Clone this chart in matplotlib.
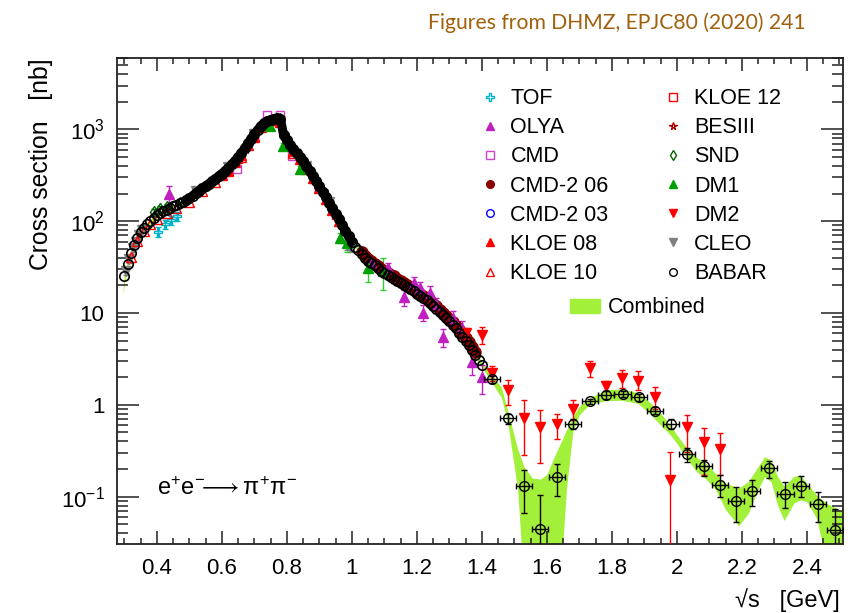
import numpy as np
import matplotlib
matplotlib.use('Agg')
import matplotlib.pyplot as plt
from matplotlib.lines import Line2D
from matplotlib.patches import Patch

plt.rcParams['font.family'] = ['Liberation Sans', 'DejaVu Sans']
plt.rcParams['mathtext.fontset'] = 'custom'
plt.rcParams['mathtext.rm'] = 'Liberation Sans'
plt.rcParams['mathtext.it'] = 'Liberation Sans:italic'
plt.rcParams['mathtext.fallback'] = 'stixsans'

# --- DATA ---
# BABAR, fine binning below 1.4 GeV
babar_x = [0.30, 0.31, 0.32, 0.33, 0.34, 0.35, 0.36, 0.37, 0.38, 0.39,
           0.40, 0.41, 0.42, 0.43, 0.44, 0.45, 0.46, 0.47, 0.48, 0.49,
           0.50, 0.51, 0.52, 0.53, 0.54, 0.55, 0.56, 0.57, 0.58, 0.59,
           0.60, 0.61, 0.62, 0.63, 0.64, 0.65, 0.66, 0.67, 0.68, 0.69,
           0.70, 0.71, 0.72, 0.73, 0.74, 0.75, 0.76, 0.77, 0.78, 0.79,
           0.80, 0.81, 0.82, 0.83, 0.84, 0.85, 0.86, 0.87, 0.88, 0.89,
           0.90, 0.91, 0.92, 0.93, 0.94, 0.95, 0.96, 0.97, 0.98, 0.99,
           1.00, 1.01, 1.02, 1.03, 1.04, 1.05, 1.06, 1.07, 1.08, 1.09,
           1.10, 1.11, 1.12, 1.13, 1.14, 1.15, 1.16, 1.17, 1.18, 1.19,
           1.20, 1.21, 1.22, 1.23, 1.24, 1.25, 1.26, 1.27, 1.28, 1.29,
           1.30, 1.31, 1.32, 1.33, 1.34, 1.35, 1.36, 1.37, 1.38, 1.39, 1.40]
babar_y = [25, 34, 45, 55, 66, 76, 85, 93, 101, 109,
           116, 122, 128, 134, 140, 146, 152, 157, 163, 170,
           178, 190, 203, 216, 229, 243, 257, 272, 289, 309,
           331, 354, 380, 415, 455, 500, 550, 625, 705, 795,
           890, 990, 1095, 1170, 1230, 1280, 1310, 1320, 1300, 860,
           770, 680, 605, 550, 500, 448, 398, 352, 310, 273,
           240, 210, 182, 159, 138, 120, 105, 91, 79, 69,
           60, 53, 48, 44, 40, 37, 35, 33, 31, 29,
           27.5, 26, 24.5, 23.5, 22.5, 21.5, 20.4, 19.3, 18.2, 17.2,
           16.2, 15.3, 14.5, 13.7, 12.9, 12.0, 11.2, 10.3, 9.5, 8.8,
           8.1, 7.4, 6.8, 6.1, 5.5, 5.0, 4.5, 4.0, 3.5, 3.1, 2.7]

# BABAR, 50 MeV bins above 1.4 GeV (value, lower edge, upper edge)
babar_hx = [1.430, 1.481, 1.530, 1.578, 1.630, 1.681, 1.732, 1.782, 1.833, 1.883, 1.932,
            1.982, 2.032, 2.083, 2.133, 2.183, 2.232, 2.284, 2.334, 2.383, 2.435, 2.486]
babar_hy = [1.91, 0.716, 0.131, 0.044, 0.163, 0.621, 1.10, 1.29, 1.32, 1.21, 0.867,
            0.621, 0.292, 0.213, 0.134, 0.090, 0.116, 0.207, 0.106, 0.131, 0.083, 0.0434]
babar_hlo = [1.72, 0.62, 0.067, 0.005, 0.102, 0.55, 1.03, 1.17, 1.21, 1.11, 0.798,
             0.543, 0.241, 0.168, 0.0986, 0.0535, 0.080, 0.159, 0.0748, 0.100, 0.0535, 0.005]
babar_hhi = [2.07, 0.80, 0.196, 0.104, 0.226, 0.70, 1.17, 1.41, 1.43, 1.32, 0.944,
             0.698, 0.337, 0.252, 0.170, 0.126, 0.150, 0.245, 0.143, 0.166, 0.111, 0.073]

cmd2_06_x = [1.03, 1.04, 1.05, 1.06, 1.07, 1.08, 1.09, 1.10, 1.11, 1.12, 1.13, 1.14,
             1.15, 1.16, 1.17, 1.18, 1.19, 1.20, 1.21, 1.22, 1.23, 1.24, 1.25, 1.26,
             1.27, 1.28, 1.29, 1.30, 1.31, 1.32, 1.33, 1.34, 1.35, 1.36, 1.37, 1.38]
cmd2_06_y = [46, 42, 39, 36.5, 34.5, 32.5, 30.5, 29, 27.5, 26, 25, 23.5,
             22.5, 21.5, 20.3, 19.2, 18, 17, 16, 15.2, 14.4, 13.6, 12.6, 11.8,
             10.9, 10, 9.3, 8.6, 7.9, 7.2, 6.5, 5.9, 5.3, 4.8, 4.3, 3.8]

cmd2_03_x = [0.61, 0.65, 0.69, 0.72, 0.75, 0.77, 0.80, 0.83, 0.865, 0.90, 0.94]
cmd2_03_y = [350, 495, 800, 1090, 1275, 1315, 765, 545, 375, 238, 136]

besiii_x = [0.61, 0.64, 0.67, 0.70, 0.73, 0.76, 0.79, 0.82, 0.85, 0.88, 0.91]
besiii_y = [345, 445, 615, 880, 1160, 1300, 850, 595, 440, 305, 207]

kloe08_x = [0.60, 0.62, 0.64, 0.66, 0.68, 0.70, 0.72, 0.74, 0.76, 0.78,
            0.80, 0.82, 0.84, 0.86, 0.88, 0.90, 0.92, 0.94, 0.96]
kloe08_y = [318, 364, 437, 528, 677, 854, 1050, 1180, 1260, 1250,
            740, 580, 480, 382, 298, 230, 175, 132, 100]

kloe10_x = [0.32, 0.34, 0.36, 0.38, 0.40, 0.43, 0.46, 0.50, 0.54, 0.58,
            0.62, 0.66, 0.70, 0.74, 0.78, 0.82, 0.86]
kloe10_y = [41, 61, 78, 93, 107, 123, 140, 164, 211, 266,
            350, 505, 820, 1130, 1200, 555, 366]

kloe12_x = [0.60, 0.65, 0.70, 0.75, 0.80, 0.85, 0.90, 0.95]
kloe12_y = [320, 480, 860, 1240, 745, 432, 232, 116]

snd_x = [0.39, 0.41, 0.43, 0.47, 0.53, 0.60, 0.66, 0.72, 0.78, 0.84, 0.90, 0.96]
snd_y = [125, 136, 142, 158, 214, 328, 545, 1085, 1290, 495, 238, 104]
snd_e = [12, 12, 12, 6, 6, 8, 10, 15, 15, 8, 5, 3]

cleo_x = [0.305, 0.315, 0.325, 0.335, 0.345, 0.355, 0.52, 0.62, 0.70, 0.86, 0.93, 0.985, 0.995]
cleo_y = [29, 39, 51, 60, 71, 81, 212, 385, 895, 402, 160, 55, 52]
cleo_e = [3, 4, 5, 5, 5, 5, 8, 12, 20, 10, 6, 6, 6]

tof_x = [0.404, 0.425, 0.443, 0.461]
tof_y = [77, 93, 103, 113]
tof_e = [9, 10, 11, 12]

olya_x = [0.437, 1.06, 1.11, 1.16, 1.19, 1.21, 1.22, 1.24, 1.26, 1.28, 1.31, 1.34, 1.37, 1.40]
olya_y = [200, 36, 31, 15.0, 21.4, 18.8, 10.1, 16.6, 12.5, 5.5, 8.9, 6.9, 2.9, 2.0]
olya_e = [45, 5, 4, 3, 3, 3, 2, 3, 2, 1.2, 1.5, 1.3, 0.8, 0.7]

cmd_x = [0.645, 0.70, 0.738, 0.778, 0.815, 0.84, 0.90]
cmd_y = [370, 860, 1440, 1440, 510, 480, 235]

dm1_x = [0.748, 0.788, 0.84, 0.963, 0.985, 1.05, 1.095]
dm1_y = [1080, 660, 370, 66, 58, 31, 29]
dm1_e = [70, 45, 25, 8, 12, 9, 11]

dm2_x = [1.350, 1.399, 1.430, 1.481, 1.530, 1.578, 1.630, 1.679, 1.732, 1.782,
         1.830, 1.881, 1.932, 1.978, 2.032, 2.083, 2.132]
dm2_y = [6.0, 5.8, 2.2, 1.46, 0.716, 0.571, 0.616, 0.898, 2.51, 1.61,
         1.95, 1.80, 1.21, 0.152, 0.571, 0.389, 0.329]
dm2_lo = [5.2, 4.62, 1.80, 1.0, 0.285, 0.231, 0.423, 0.687, 2.0, 1.40,
          1.52, 1.46, 0.898, 0.005, 0.31, 0.173, 0.173]
dm2_hi = [6.9, 7.03, 2.62, 1.87, 1.13, 0.883, 0.798, 1.13, 2.97, 1.80,
          2.41, 2.31, 1.58, 0.31, 0.778, 0.566, 0.491]

# combined band
band_x = [0.296, 0.30, 0.32, 0.35, 0.40, 0.45, 0.50, 0.55, 0.60, 0.65, 0.70, 0.74, 0.77,
          0.785, 0.79, 0.82, 0.86, 0.90, 0.95, 1.00, 1.05, 1.10, 1.15, 1.20, 1.25, 1.30,
          1.35, 1.38, 1.43, 1.46, 1.48, 1.51, 1.53, 1.555, 1.58, 1.60, 1.62, 1.64, 1.66,
          1.68, 1.70, 1.73, 1.78, 1.83, 1.88, 1.92, 1.95, 1.98, 2.00, 2.03, 2.06, 2.09,
          2.12, 2.15, 2.19, 2.22, 2.25, 2.27, 2.29, 2.31, 2.33, 2.36, 2.38, 2.40, 2.43,
          2.46, 2.51]
band_lo = [16, 21, 42, 72, 110, 141, 170, 232, 316, 480, 860, 1200, 1280,
           1150, 820, 580, 380, 230, 115, 57, 35, 26, 20.5, 15.4, 11.4, 7.7,
           4.6, 3.3, 1.75, 1.2, 0.62, 0.12, 0.01, 0.01, 0.01, 0.01, 0.01, 0.01, 0.12,
           0.52, 0.78, 1.0, 1.11, 1.12, 1.04, 0.78, 0.60, 0.47, 0.38, 0.262, 0.188, 0.155,
           0.118, 0.072, 0.048, 0.066, 0.12, 0.165, 0.145, 0.08, 0.055, 0.085, 0.092, 0.088, 0.058,
           0.02, 0.02]
band_hi = [19, 28, 48, 80, 122, 151, 185, 254, 346, 520, 920, 1260, 1340,
           1300, 900, 630, 415, 250, 125, 63, 38, 28.5, 22.5, 17.0, 12.6, 8.5,
           5.4, 3.7, 2.12, 1.55, 0.85, 0.33, 0.21, 0.16, 0.155, 0.175, 0.26, 0.37, 0.53,
           0.75, 0.97, 1.18, 1.46, 1.49, 1.36, 1.04, 0.81, 0.60, 0.47, 0.34, 0.27, 0.23,
           0.177, 0.14, 0.124, 0.146, 0.213, 0.273, 0.25, 0.166, 0.13, 0.166, 0.172, 0.14, 0.104,
           0.085, 0.069]

LIME = '#A2F03A'
RED = '#FF0000'
DKRED = '#8B0000'
MAG = '#C020C0'

# --- PLOT SETUP ---
fig = plt.figure(figsize=(8.51, 6.13), dpi=100)
ax = fig.add_axes([0.1375, 0.1126, 0.853, 0.7928])
ax.set_yscale('log')


def draw(x, y, marker, color, face, yerr=None, ms=6.5, z=3, ecolor=None, xerr=None):
    ax.errorbar(x, y, yerr=yerr, xerr=xerr, fmt=marker, color=color, mfc=face, mec=color,
                ms=ms, mew=1.0, ecolor=ecolor or color, elinewidth=1.0, capsize=2.2,
                capthick=1.0, zorder=z)


def asym(y, lo, hi):
    y = np.array(y)
    return [y - np.array(lo), np.array(hi) - y]


ax.fill_between(band_x, band_lo, band_hi, color=LIME, lw=0, zorder=1)

draw(cmd2_06_x, cmd2_06_y, 'o', DKRED, DKRED, ms=8, z=2)
draw(olya_x, olya_y, '^', MAG, MAG, yerr=olya_e, ms=7, z=2)
draw(cmd_x, cmd_y, 's', '#CC44CC', 'none', ms=6, z=2)
draw(snd_x, snd_y, 'd', '#006400', 'none', yerr=snd_e, ms=6, z=2)
draw(tof_x, tof_y, 'P', '#00B4C8', 'none', yerr=tof_e, ms=6, z=2)
draw(cleo_x, cleo_y, 'v', '#808080', '#808080', yerr=cleo_e, ms=6.5, z=2)
draw(kloe10_x, kloe10_y, '^', RED, 'none', ms=6.5, z=2)
draw(kloe08_x, kloe08_y, '^', RED, RED, ms=6.5, z=2)
draw(kloe12_x, kloe12_y, 's', RED, 'none', ms=6, z=2)
draw(besiii_x, besiii_y, '*', '#B00000', 'none', ms=7, z=2)
draw(cmd2_03_x, cmd2_03_y, 'o', '#0000FF', 'none', ms=6, z=2)
draw(dm1_x, dm1_y, '^', '#00A000', '#00A000', yerr=dm1_e, ms=7, z=2, ecolor='#33CC33')
draw(dm2_x, dm2_y, 'v', RED, RED, yerr=asym(dm2_y, dm2_lo, dm2_hi), ms=7.5, z=4)

# BABAR: dense region reads as a solid black band
bx = np.array(babar_x)
by = np.array(babar_y)
dense = (bx >= 0.49) & (bx <= 1.005)
ax.plot(bx[dense], by[dense], color='black', lw=6.5, solid_capstyle='round', zorder=5)
ax.plot(bx, by, 'o', color='black', mfc='none', mew=1.2, ms=6.8, zorder=5)
draw(babar_hx, babar_hy, 'o', 'black', 'none', yerr=asym(babar_hy, babar_hlo, babar_hhi),
     xerr=0.025, ms=7, z=5)

# --- AXES ---
ax.set_xlim(0.277, 2.511)
ax.set_ylim(0.0305, 6000)
ax.set_xticks([0.4, 0.6, 0.8, 1.0, 1.2, 1.4, 1.6, 1.8, 2.0, 2.2, 2.4])
ax.set_xticklabels(['0.4', '0.6', '0.8', '1', '1.2', '1.4', '1.6', '1.8', '2', '2.2', '2.4'])
ax.set_xticks(np.arange(0.30, 2.51, 0.05), minor=True)
ax.set_yticks([0.1, 1, 10, 100, 1000])
ax.set_yticklabels([r'$\mathregular{10^{-1}}$', '1', '10',
                    r'$\mathregular{10^{2}}$', r'$\mathregular{10^{3}}$'])
ax.tick_params(which='both', direction='in', top=True, right=True, width=1.1,
               labelsize=16, color='#222222')
ax.tick_params(axis='x', which='major', length=9.5, pad=10)
ax.tick_params(axis='x', which='minor', length=4.3)
ax.tick_params(axis='y', which='major', length=16, pad=9)
ax.tick_params(axis='y', which='minor', length=8)
for s in ax.spines.values():
    s.set_linewidth(1.3)
    s.set_color('#222222')

fig.text(41 / 851, 1 - 58 / 613, 'Cross section   [nb]', rotation=90, ha='center', va='top',
         fontsize=17.8)
fig.text(840 / 851, 1 - 600 / 613, '\u221as   [GeV]', ha='right', va='center', fontsize=17)
ax.text(0.055, 0.115,
        r'$\mathregular{e^{+}e^{-}\!\!\longrightarrow\pi^{+}\pi^{-}}$',
        transform=ax.transAxes, fontsize=17, ha='left', va='center')

fig.text(617 / 851, 1 - 23 / 613, 'Figures from DHMZ, EPJC80 (2020) 241', ha='center',
         va='center', fontsize=15.2, color='#A0600C', family='Lato')

# --- LEGEND ---
labels = ['TOF', 'OLYA', 'CMD', 'CMD-2 06', 'CMD-2 03', 'KLOE 08', 'KLOE 10',
          'KLOE 12', 'BESIII', 'SND', 'DM1', 'DM2', 'CLEO', 'BABAR']
styles = [('P', '#00B4C8', 'none'), ('^', MAG, MAG), ('s', '#CC44CC', 'none'),
          ('o', DKRED, DKRED), ('o', '#0000FF', 'none'), ('^', RED, RED),
          ('^', RED, 'none'), ('s', RED, 'none'), ('*', '#B00000', 'none'),
          ('d', '#006400', 'none'), ('^', '#00A000', '#00A000'), ('v', RED, RED),
          ('v', '#808080', '#808080'), ('o', 'black', 'none')]
handles = [Line2D([], [], ls='none', marker=m, color=c, mec=c, mfc=f, ms=5.5, mew=1.0)
           for m, c, f in styles]
leg = ax.legend(handles, labels, ncol=2, loc='upper left', bbox_to_anchor=(0.502, 0.938),
                frameon=False, fontsize=15.5, handlelength=0.8, handletextpad=0.55,
                columnspacing=2.6, labelspacing=0.38, borderpad=0, borderaxespad=0)
ax.add_artist(leg)
ax.legend([Patch(color=LIME)], ['Combined'], loc='center left', bbox_to_anchor=(0.624, 0.486),
          frameon=False, fontsize=15.5, handlelength=1.4, handleheight=0.65,
          handletextpad=0.37, borderpad=0, borderaxespad=0)

fig.savefig('out.png', dpi=100)
